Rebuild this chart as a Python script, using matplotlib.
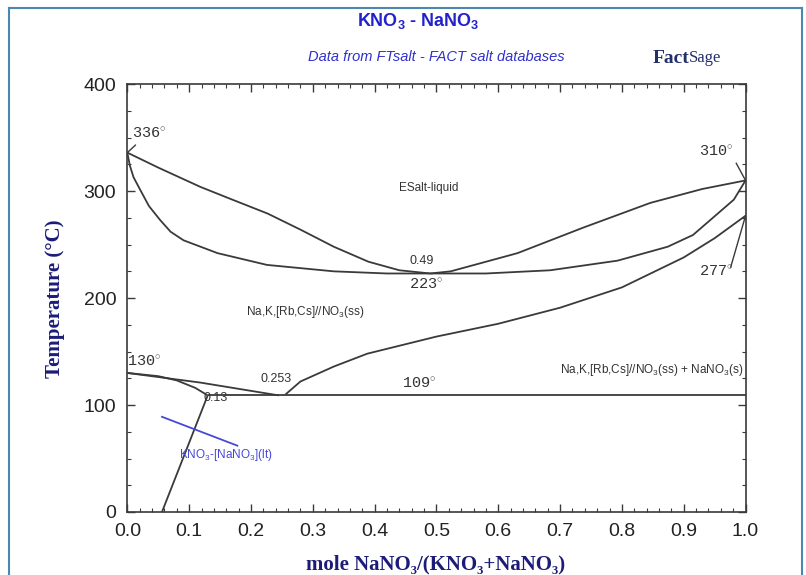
import matplotlib
matplotlib.use("Agg")
import matplotlib.pyplot as plt
from matplotlib.lines import Line2D
from matplotlib.ticker import MultipleLocator

plt.rcParams["mathtext.fontset"] = "custom"
plt.rcParams["mathtext.rm"] = "Liberation Sans"
plt.rcParams["mathtext.it"] = "Liberation Sans:italic"
plt.rcParams["mathtext.bf"] = "Liberation Sans:bold"

# phase boundaries
liq_left_x = [0.0, 0.05, 0.118, 0.17, 0.227, 0.28, 0.334, 0.39, 0.44, 0.49]
liq_left_T = [336, 322, 304, 292, 279, 264, 248, 234, 226, 223]
liq_right_x = [0.49, 0.523, 0.631, 0.738, 0.846, 0.93, 1.0]
liq_right_T = [223, 225, 242, 266, 289, 302, 310]

sol_left_x = [0.0, 0.004, 0.01, 0.021, 0.035, 0.053, 0.07, 0.091, 0.146, 0.226, 0.334, 0.42, 0.49]
sol_left_T = [336, 324, 313, 301, 286, 273, 262, 254, 242, 231, 225, 223, 223]
sol_right_x = [0.49, 0.58, 0.684, 0.793, 0.874, 0.915, 0.943, 0.981, 1.0]
sol_right_T = [223, 223, 226, 235, 248, 259, 273, 292, 310]

solvus_x = [0.256, 0.28, 0.334, 0.388, 0.5, 0.6, 0.7, 0.8, 0.9, 0.95, 1.0]
solvus_T = [110, 122, 136, 148, 164, 176, 191, 210, 238, 256, 277]

eut_x = [0.13, 1.0]
eut_T = [109, 109]

low_a_x = [0.0, 0.118, 0.245]
low_a_T = [130, 121, 109]
low_b_x = [0.0, 0.05, 0.08, 0.11, 0.13]
low_b_T = [130, 127, 123, 116, 109]
low_c_x = [0.13, 0.056]
low_c_T = [109, 0]

blue_x = [0.056, 0.178]
blue_T = [89, 62]

leaders = [([0.0, 0.013], [336, 343]),
           ([1.0, 0.985], [310, 326]),
           ([1.0, 0.976], [277, 229])]

deg_labels = ["336", "310", "277", "223", "130", "109"]
deg_pos = [(0.008, 347), (0.925, 330), (0.925, 218), (0.455, 206), (0.0, 134), (0.445, 113)]

comp_labels = ["0.49", "0.253", "0.13"]
comp_pos = [(0.457, 229), (0.215, 119), (0.123, 101)]

x_ticks = [0.0, 0.1, 0.2, 0.3, 0.4, 0.5, 0.6, 0.7, 0.8, 0.9, 1.0]
y_ticks = [0, 100, 200, 300, 400]

line_col = "#3a3a3a"
narrow = ["Liberation Sans Narrow", "Liberation Sans", "DejaVu Sans"]

fig = plt.figure(figsize=(8.06, 5.75), dpi=100)
ax = fig.add_axes([0.158, 0.1096, 0.767, 0.744])

for xs, ts in [(liq_left_x, liq_left_T), (liq_right_x, liq_right_T),
               (sol_left_x, sol_left_T), (sol_right_x, sol_right_T),
               (solvus_x, solvus_T), (eut_x, eut_T),
               (low_a_x, low_a_T), (low_b_x, low_b_T), (low_c_x, low_c_T)]:
    ax.plot(xs, ts, color=line_col, lw=1.3, solid_capstyle="butt")
for xs, ts in leaders:
    ax.plot(xs, ts, color=line_col, lw=1.0)
ax.plot(blue_x, blue_T, color="#4848d8", lw=1.3)

for lab, (x, y) in zip(deg_labels, deg_pos):
    ax.text(x, y, lab + r"$^{\circ}$", fontsize=11, family="Liberation Mono",
            color="#333333", ha="left", va="bottom")
for lab, (x, y) in zip(comp_labels, comp_pos):
    ax.text(x, y, lab, fontsize=9, family="Liberation Sans", color="#333333",
            ha="left", va="bottom")

ax.text(0.487, 303, "ESalt-liquid", fontsize=8.5, family="Liberation Sans",
        color="#333333", ha="center", va="center")
ax.text(0.288, 187, r"Na,K,[Rb,Cs]//NO$_3$(ss)", fontsize=8.5, family="Liberation Sans",
        color="#333333", ha="center", va="center")
ax.text(0.997, 133, r"Na,K,[Rb,Cs]//NO$_3$(ss) + NaNO$_3$(s)", fontsize=8.5,
        family="Liberation Sans", color="#333333", ha="right", va="center")
ax.text(0.083, 53, r"KNO$_3$-[NaNO$_3$](lt)", fontsize=8.5, family="Liberation Sans",
        color="#4848d8", ha="left", va="center")

ax.set_xlim(0, 1)
ax.set_ylim(0, 400)
ax.set_xticks(x_ticks)
ax.set_yticks(y_ticks)
ax.set_xticklabels([f"{v:.1f}" for v in x_ticks])
ax.set_yticklabels([str(v) for v in y_ticks])
ax.xaxis.set_minor_locator(MultipleLocator(0.02))
ax.yaxis.set_minor_locator(MultipleLocator(25))
ax.tick_params(which="both", direction="in", top=True, right=True, color=line_col)
ax.tick_params(which="major", length=6, width=1.0, labelsize=14, pad=8)
ax.tick_params(which="minor", length=3, width=0.8)
for lbl in ax.get_xticklabels() + ax.get_yticklabels():
    lbl.set_family(narrow)
    lbl.set_color("#222222")
for sp in ax.spines.values():
    sp.set_color(line_col)
    sp.set_linewidth(1.2)

navy = "#1c1c78"
fig.text(0.068, 0.48, "Temperature (\u00b0C)", rotation=90, fontsize=15,
         fontweight="bold", family="Liberation Serif", color=navy,
         ha="center", va="center")
fig.text(0.541, 0.018, "mole NaNO\u2083/(KNO\u2083+NaNO\u2083)", fontsize=15,
         fontweight="bold", family=["Liberation Serif", "DejaVu Serif"], color=navy,
         ha="center", va="center")

fig.text(0.519, 0.963, r"KNO$_\mathbf{3}$ - NaNO$_\mathbf{3}$", fontsize=13, fontweight="bold",
         family=narrow, color="#2222cc", ha="center", va="center")
fig.text(0.541, 0.901, "Data from FTsalt - FACT salt databases", fontsize=10.5,
         style="italic", family=narrow, color="#3030cc", ha="center", va="center")
fig.text(0.855, 0.899, "Fact", fontsize=14, fontweight="bold", family="Liberation Serif",
         color="#22306a", ha="right", va="center")
fig.text(0.855, 0.899, "Sage", fontsize=12, family="Liberation Serif",
         color="#22306a", ha="left", va="center")

frame_col = "#4a88b2"
fig.add_artist(Line2D([0.011, 0.011], [0.0, 0.986], transform=fig.transFigure,
                      color=frame_col, lw=1.5))
fig.add_artist(Line2D([0.995, 0.995], [0.0, 0.986], transform=fig.transFigure,
                      color=frame_col, lw=1.5))
fig.add_artist(Line2D([0.011, 0.995], [0.986, 0.986], transform=fig.transFigure,
                      color=frame_col, lw=1.5))

fig.savefig("out.png", dpi=100)
